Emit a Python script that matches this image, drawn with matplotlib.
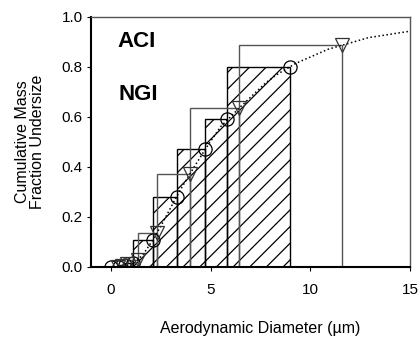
import matplotlib
matplotlib.use('Agg')
import matplotlib.pyplot as plt
import numpy as np

plt.rcParams['font.family'] = ['Liberation Sans', 'DejaVu Sans']
plt.rcParams['hatch.linewidth'] = 0.9

# ACI (circles, hatched bars)
aci_d = np.array([0.0, 0.4, 0.7, 1.1, 2.1, 3.3, 4.7, 5.8, 9.0])
aci_f = np.array([0.0, 0.0, 0.005, 0.016, 0.107, 0.28, 0.47, 0.59, 0.80])

# NGI (triangles, open bars)
ngi_d = np.array([0.36, 0.54, 0.83, 1.36, 2.30, 3.99, 6.40, 11.6])
ngi_f = np.array([0.0, 0.004, 0.012, 0.027, 0.135, 0.37, 0.633, 0.885])

# dotted fitted curve
fit_d = [0.8, 1.2, 1.65, 2.0, 2.49, 3.02, 3.5, 4.16, 4.78, 5.5, 6.5,
         7.73, 8.27, 9.26, 10.9, 12.0, 12.9, 13.46, 14.83, 15.0]
fit_f = [0.0, 0.015, 0.053, 0.095, 0.16, 0.24, 0.31, 0.397, 0.476, 0.56,
         0.64, 0.733, 0.766, 0.813, 0.87, 0.895, 0.916, 0.923, 0.94, 0.942]

fig = plt.figure(figsize=(4.19, 3.41), dpi=100)
ax = fig.add_axes([0.2172, 0.2179, 0.7613, 0.7331])

ax.bar(aci_d[:-1], aci_f[1:], width=np.diff(aci_d), align='edge',
       fill=False, edgecolor='black', hatch='//', linewidth=1.0)
ax.bar(ngi_d[:-1], ngi_f[1:], width=np.diff(ngi_d), align='edge',
       fill=False, edgecolor='#555555', linewidth=1.0)

ax.plot(fit_d, fit_f, ':', color='black', lw=1.1)
ax.plot(aci_d, aci_f, 'o', mfc='none', mec='black', ms=9.5, mew=0.9)
ax.plot(ngi_d, ngi_f, 'v', mfc='none', mec='#333333', ms=9.5, mew=0.9)

ax.text(0.33, 0.9, 'ACI', fontsize=16, fontweight='bold', va='center')
ax.text(0.40, 0.69, 'NGI', fontsize=16, fontweight='bold', va='center')

ax.set_xlim(-1, 15)
ax.set_ylim(0, 1.0)
ax.set_xticks([0, 5, 10, 15])
ax.set_yticks(np.arange(0, 1.01, 0.2))
ax.yaxis.set_major_formatter(matplotlib.ticker.FormatStrFormatter('%.1f'))
ax.tick_params(axis='both', direction='out', length=3, labelsize=11)
ax.tick_params(axis='x', pad=9)
ax.tick_params(axis='y', pad=3)
for s in ['left', 'bottom']:
    ax.spines[s].set_linewidth(1.5)
for s in ['top', 'right']:
    ax.spines[s].set_linewidth(1.0)
    ax.spines[s].set_color('#555555')

fig.text(0.621, 0.038, 'Aerodynamic Diameter (\u00b5m)', fontsize=11.5,
         ha='center', va='center')
fig.text(0.072, 0.585, 'Cumulative Mass\nFraction Undersize', fontsize=11.5,
         rotation=90, ha='center', va='center', multialignment='center',
         linespacing=1.0)

fig.savefig('out.png', dpi=100)
